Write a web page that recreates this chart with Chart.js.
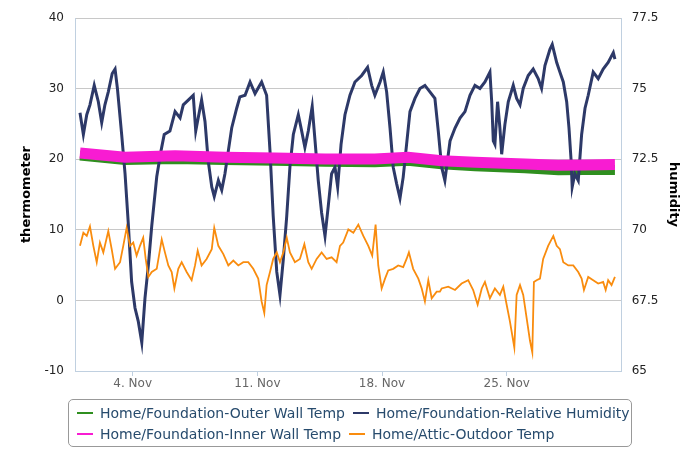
<!DOCTYPE html>
<html>
<head>
<meta charset="utf-8">
<script src="https://cdn.jsdelivr.net/npm/chart.js@4.4.0/dist/chart.umd.min.js"></script>
<style>
  body { margin: 0; background: #fff; }
  #wrap { position: relative; width: 700px; height: 467px; }
  #legend {
    position: absolute; left: 68px; top: 399px; width: 564px; height: 48px;
    box-sizing: border-box; border: 1px solid #999; border-radius: 5px;
    font: 14px "DejaVu Sans", sans-serif; color: #274b6d;
  }
  .row { position: absolute; left: 8px; white-space: nowrap; }
  .item { display: inline-block; margin-right: 8px; }
  .sym { display: inline-block; width: 16px; height: 2px; vertical-align: middle; margin-right: 7px; position: relative; top: -1px; }
</style>
</head>
<body>
<div id="wrap">
  <canvas id="chart" width="700" height="467"></canvas>
  <div id="legend"></div>
</div>
<script>
// x values are days of November (1 = 1 Nov 00:00)
const xTickDays = [4, 11, 18, 25];
const xTickLabels = ['4. Nov', '11. Nov', '18. Nov', '25. Nov'];

const seriesNames = [
  'Home/Foundation-Outer Wall Temp',
  'Home/Foundation-Relative Humidity',
  'Home/Foundation-Inner Wall Temp',
  'Home/Attic-Outdoor Temp'
];
const seriesColors = ['#2f8f1f', '#2d3968', '#f81cd2', '#f98c0e'];

// relative humidity (right axis)
const humDays = [1.04,1.23,1.42,1.60,1.84,2.07,2.26,2.44,2.63,2.85,3.01,3.14,3.38,3.57,3.75,3.94,4.13,4.31,4.51,4.69,4.88,5.07,5.35,5.59,5.77,6.09,6.38,6.66,6.84,7.12,7.40,7.54,7.68,7.87,8.06,8.24,8.44,8.58,8.81,9.00,9.18,9.37,9.56,9.84,10.02,10.31,10.59,10.87,11.24,11.52,11.71,11.89,12.09,12.27,12.46,12.65,12.83,13.02,13.30,13.49,13.67,13.86,14.08,14.24,14.42,14.61,14.80,14.98,15.17,15.36,15.51,15.70,15.92,16.20,16.48,16.86,17.19,17.42,17.60,17.89,18.07,18.26,18.45,18.63,18.82,19.01,19.19,19.38,19.57,19.85,20.13,20.41,20.69,20.97,21.16,21.35,21.53,21.82,22.10,22.38,22.66,22.94,23.22,23.50,23.78,24.06,24.16,24.25,24.34,24.49,24.62,24.72,24.90,25.09,25.37,25.56,25.75,25.93,26.21,26.49,26.77,26.96,27.15,27.43,27.56,27.81,27.99,28.18,28.37,28.50,28.62,28.68,28.83,29.02,29.21,29.40,29.58,29.86,30.14,30.42,30.70,30.99,31.08];
const humValues = [74.15,73.38,74.08,74.43,75.12,74.54,73.80,74.43,74.89,75.54,75.70,75.02,73.38,71.99,70.25,68.16,67.23,66.77,66.01,67.58,68.75,70.14,71.88,72.80,73.38,73.50,74.19,73.97,74.43,74.60,74.77,73.50,73.97,74.60,73.84,72.45,71.52,71.18,71.75,71.41,71.99,72.80,73.61,74.31,74.71,74.77,75.24,74.83,75.24,74.77,72.80,70.49,68.51,67.69,68.97,70.49,72.23,73.38,74.08,73.50,72.92,73.50,74.37,73.15,71.75,70.60,69.78,70.83,71.99,72.22,71.52,73.03,74.08,74.77,75.24,75.47,75.76,75.12,74.77,75.24,75.59,74.89,73.61,72.22,71.64,71.12,71.87,73.03,74.19,74.66,75.01,75.12,74.89,74.66,73.50,72.22,71.75,73.15,73.61,73.96,74.19,74.77,75.12,75.01,75.24,75.59,74.54,73.15,73.03,74.54,73.61,72.68,73.73,74.54,75.12,74.66,74.43,75.01,75.47,75.70,75.36,75.01,75.82,76.40,76.57,75.93,75.59,75.24,74.54,73.61,72.45,71.52,71.99,71.75,73.38,74.31,74.77,75.59,75.36,75.70,75.93,76.28,76.05];

// attic outdoor temperature (left axis)
const outdoorDays = [1.04,1.23,1.42,1.60,1.79,1.98,2.16,2.35,2.63,2.82,3.01,3.29,3.47,3.66,3.85,4.03,4.22,4.41,4.59,4.73,4.88,5.07,5.35,5.63,5.81,6.00,6.19,6.34,6.56,6.75,7.03,7.31,7.50,7.65,7.87,8.15,8.44,8.58,8.81,9.09,9.37,9.65,9.93,10.21,10.49,10.77,11.05,11.24,11.39,11.52,11.71,11.89,12.09,12.27,12.46,12.65,12.83,13.11,13.39,13.64,13.86,14.05,14.33,14.61,14.89,15.17,15.45,15.64,15.82,16.11,16.39,16.67,16.95,17.23,17.45,17.64,17.79,17.98,18.17,18.35,18.63,18.91,19.19,19.38,19.51,19.75,20.04,20.23,20.41,20.60,20.79,21.07,21.25,21.35,21.72,22.10,22.47,22.84,23.12,23.37,23.60,23.78,24.06,24.34,24.62,24.81,25.00,25.18,25.43,25.56,25.75,25.93,26.12,26.31,26.44,26.53,26.68,26.87,27.05,27.33,27.62,27.81,27.99,28.18,28.46,28.74,29.02,29.21,29.34,29.58,29.86,30.14,30.42,30.56,30.70,30.89,31.08];
const outdoorTemps = [7.74,9.60,9.14,10.5,7.74,5.42,8.20,6.81,9.83,7.27,4.48,5.42,7.74,10.29,7.74,8.20,6.35,7.74,8.90,5.88,3.33,4.03,4.48,8.66,6.81,4.96,4.03,1.70,4.48,5.42,4.03,2.87,4.96,7.05,4.96,5.88,7.27,10.29,7.74,6.57,4.96,5.65,4.96,5.42,5.42,4.48,3.09,-0.15,-1.78,2.17,4.03,5.88,6.81,5.42,6.81,8.90,6.81,5.42,5.88,7.97,5.42,4.48,5.88,6.81,5.88,6.11,5.42,7.74,8.20,10.06,9.60,10.75,9.14,7.74,6.35,10.75,4.96,1.70,3.09,4.26,4.48,4.96,4.72,5.88,6.81,4.48,3.09,1.70,-0.15,2.87,0.31,1.24,1.24,1.70,1.94,1.48,2.40,2.87,1.48,-0.61,1.70,2.63,0.31,1.70,0.78,1.94,-0.61,-2.94,-6.66,0.78,2.17,0.78,-2.48,-5.72,-7.35,2.63,2.87,3.09,5.88,7.74,9.14,7.74,7.27,5.42,4.96,4.96,4.03,3.09,1.48,3.33,2.87,2.40,2.63,1.48,2.87,2.17,3.33];

// foundation wall temperatures (left axis)
const wallDays = [1.04,3.57,6.38,9.18,11.99,14.80,17.60,19.47,21.35,23.22,26.03,27.90,29.40,31.08];
const innerWallTemps = [20.90,20.30,20.50,20.30,20.20,20.05,20.05,20.30,19.80,19.60,19.35,19.15,19.20,19.25];
const outerWallTemps = [20.55,19.90,20.05,19.90,19.80,19.65,19.60,19.80,19.30,19.00,18.75,18.45,18.50,18.50];

const pts = (xs, ys) => xs.map((x, i) => ({ x: x, y: ys[i] }));

const lineSet = (idx, data, axis, width, order) => ({
  label: seriesNames[idx],
  data: data,
  yAxisID: axis,
  borderColor: seriesColors[idx],
  backgroundColor: seriesColors[idx],
  borderWidth: width,
  pointRadius: 0,
  tension: 0,
  fill: false,
  order: order
});

const font = 'DejaVu Sans';

new Chart(document.getElementById('chart'), {
  type: 'line',
  data: {
    datasets: [
      lineSet(0, pts(wallDays, outerWallTemps), 'y', 10, 4),
      lineSet(1, pts(humDays, humValues), 'y1', 3, 3),
      lineSet(2, pts(wallDays, innerWallTemps), 'y', 11, 2),
      lineSet(3, pts(outdoorDays, outdoorTemps), 'y', 1.8, 1)
    ]
  },
  options: {
    responsive: false,
    animation: false,
    layout: { padding: { top: 12, bottom: 72, left: 0, right: 0 } },
    plugins: { legend: { display: false }, tooltip: { enabled: false } },
    scales: {
      x: {
        type: 'linear',
        min: 0.76,
        max: 31.46,
        afterBuildTicks: (scale) => { scale.ticks = xTickDays.map(v => ({ value: v })); },
        afterFit: (scale) => { scale.height = 24; },
        ticks: {
          color: '#666',
          font: { family: font, size: 12 },
          padding: 1,
          maxRotation: 0,
          callback: (v) => xTickLabels[xTickDays.indexOf(v)]
        },
        grid: { drawOnChartArea: false, color: '#C0D0E0', tickLength: 5 },
        border: { color: '#C0D0E0' }
      },
      y: {
        position: 'left',
        min: -10,
        max: 40,
        afterFit: (scale) => { scale.width = 75; },
        ticks: { stepSize: 10, color: '#222', font: { family: font, size: 12 }, padding: 11 },
        grid: { color: '#C8C8C8', drawTicks: false },
        border: { color: '#C0D0E0' },
        title: { display: true, text: 'thermometer', color: '#000', font: { family: font, size: 13, weight: 'bold' }, padding: { top: 19, bottom: 0 } }
      },
      y1: {
        position: 'right',
        min: 65,
        max: 77.5,
        afterFit: (scale) => { scale.width = 78.3; },
        ticks: { stepSize: 2.5, color: '#222', font: { family: font, size: 12 }, padding: 10 },
        grid: { display: false, drawTicks: false },
        border: { display: true, color: '#C0D0E0' },
        title: { display: true, text: 'humidity', color: '#000', font: { family: font, size: 13, weight: 'bold' }, padding: { top: 19, bottom: 0 } }
      }
    }
  }
});

// boxed legend, two rows like the original
const legend = document.getElementById('legend');
const rows = [[0, 1], [2, 3]];
rows.forEach((r, ri) => {
  const row = document.createElement('div');
  row.className = 'row';
  row.style.top = (ri === 0 ? 5 : 26) + 'px';
  row.innerHTML = r.map(i =>
    `<span class="item"><span class="sym" style="background:${seriesColors[i]}"></span>${seriesNames[i]}</span>`
  ).join('');
  legend.appendChild(row);
});
</script>
</body>
</html>
